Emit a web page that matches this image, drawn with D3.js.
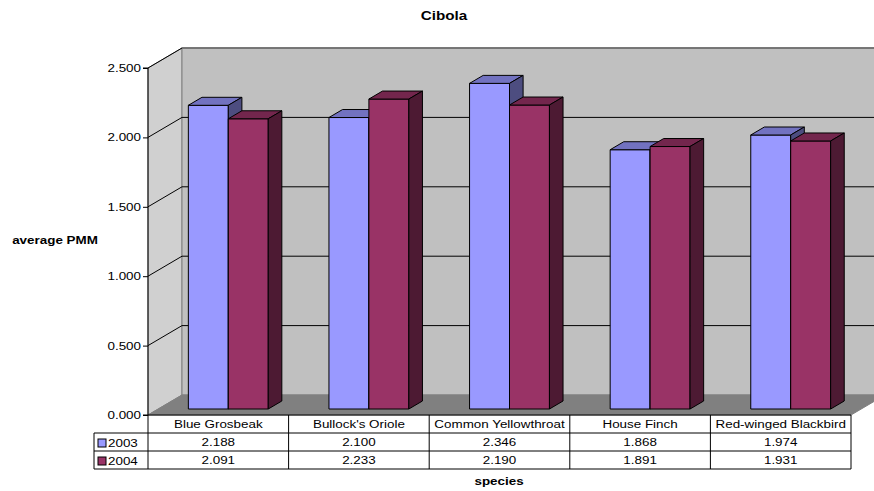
<!DOCTYPE html>
<html><head><meta charset="utf-8">
<script src="https://cdn.jsdelivr.net/npm/d3@7"></script>
<style>body{margin:0;background:#fff}svg{display:block;font-family:"Liberation Sans",Arial,sans-serif}</style>
</head><body><svg id="c" width="874" height="491"></svg>
<script>
const categories = ["Blue Grosbeak","Bullock's Oriole","Common Yellowthroat","House Finch","Red-winged Blackbird"];
const seriesNames = ["2003","2004"];
const values2003 = [2.188,2.100,2.346,1.868,1.974];
const values2004 = [2.091,2.233,2.190,1.891,1.931];
const yTicks = [0,0.5,1.0,1.5,2.0,2.5];

(function(){
const svg = d3.select("#c");
const W = 874, H = 491;
const pL = 148, pR = 851, pT = 68, pB = 415;
const DX = 34, DY = 20;           // wall depth
const SX = 1.22;                  // horizontal text stretch
const y = d3.scaleLinear().domain([0,2.5]).range([pB, pT]);
const x = d3.scaleBand().domain(categories).range([pL, pR]).paddingInner(0).paddingOuter(0);
const xs = d3.scaleBand().domain(seriesNames).range([0, x.bandwidth()]).paddingInner(0).paddingOuter(0.76);
const colors = {
  "2003": {front:"#9999FF", top:"#7272C0", side:"#4D4D80"},
  "2004": {front:"#993366", top:"#73264D", side:"#4D1A33"}
};
const poly = pts => pts.map(p=>p.join(",")).join(" ");
function stretch(sel){
  sel.each(function(){
    const t = d3.select(this);
    const tx = +t.attr("x")||0, ty = +t.attr("y")||0;
    t.attr("x",0).attr("y",0).attr("transform",`translate(${tx},${ty}) scale(${SX},1)`);
  });
  return sel;
}
svg.append("defs").append("clipPath").attr("id","cl").append("rect").attr("x",0).attr("y",0).attr("width",W).attr("height",H);
const g = svg.append("g").attr("clip-path","url(#cl)");

// walls
g.append("polygon").attr("points", poly([[pL,pB],[pL,pT],[pL+DX,pT-DY],[pL+DX,pB-DY]]))
  .attr("fill","#D0D0D0").attr("stroke","#808080");
g.append("rect").attr("x",pL+DX).attr("y",pT-DY).attr("width",W).attr("height",pB-pT)
  .attr("fill","#C0C0C0").attr("stroke","#808080");
g.append("polygon").attr("points", poly([[pL,pB],[pL+DX,pB-DY],[pR+DX,pB-DY],[pR,pB]]))
  .attr("fill","#808080").attr("stroke","#808080");

// gridlines
yTicks.filter(t=>t>0).forEach(t=>{
  const yy = y(t);
  g.append("line").attr("x1",pL).attr("y1",yy).attr("x2",pL+DX).attr("y2",yy-DY).attr("stroke","#000").attr("stroke-width",1);
  g.append("line").attr("x1",pL+DX).attr("y1",yy-DY).attr("x2",W+5).attr("y2",yy-DY).attr("stroke","#000").attr("stroke-width",1);
});
g.append("line").attr("x1",pL+DX).attr("y1",pT-DY).attr("x2",W+5).attr("y2",pT-DY).attr("stroke","#808080").attr("stroke-width",1.5);

// bars
const offX = 10, offY = 6, bdx = 13.6, bdy = 8;
const data = categories.map((c,i)=>({cat:c, vals:[{s:"2003",v:values2003[i]},{s:"2004",v:values2004[i]}]}));
data.forEach(d=>{
  d.vals.forEach(b=>{
    const x0 = x(d.cat) + xs(b.s) + offX, w = xs.bandwidth();
    const yT = y(b.v) - offY, yB = y(0) - offY;
    const c = colors[b.s];
    const bg = g.append("g").attr("stroke","#000").attr("stroke-width",1).attr("stroke-linejoin","round");
    bg.append("rect").attr("x",x0).attr("y",yT).attr("width",w).attr("height",yB-yT).attr("fill",c.front);
    bg.append("polygon").attr("points",poly([[x0,yT],[x0+bdx,yT-bdy],[x0+w+bdx,yT-bdy],[x0+w,yT]])).attr("fill",c.top);
    bg.append("polygon").attr("points",poly([[x0+w,yT],[x0+w+bdx,yT-bdy],[x0+w+bdx,yB-bdy],[x0+w,yB]])).attr("fill",c.side);
  });
});

// y axis
const yAxis = d3.axisLeft(y).tickValues(yTicks).tickFormat(d3.format(".3f")).tickSize(5).tickPadding(2);
const ya = svg.append("g").attr("transform",`translate(${pL},0)`).call(yAxis);
ya.selectAll("path,line").attr("stroke","#000");
ya.select(".domain").attr("d",`M-5,${pT}H0V${pB}H-5`);
ya.selectAll("text").attr("font-size",11).attr("font-family","Liberation Sans, Arial, sans-serif").attr("fill","#000");
stretch(ya.selectAll("text"));

// data table
const rowH = 18, tTop = pB, legL = 94;
const tg = svg.append("g").attr("font-size",11).attr("fill","#000");
const line = (x1,y1,x2,y2)=>tg.append("line").attr("x1",x1).attr("y1",y1).attr("x2",x2).attr("y2",y2).attr("stroke","#000").attr("stroke-width",1);
line(pL,tTop,pR,tTop);
line(legL,tTop+rowH,pR,tTop+rowH);
line(legL,tTop+2*rowH,pR,tTop+2*rowH);
line(legL,tTop+3*rowH,pR,tTop+3*rowH);
line(legL,tTop+rowH,legL,tTop+3*rowH);
x.domain().forEach(c=>line(x(c),tTop,x(c),tTop+3*rowH));
line(pR,tTop,pR,tTop+3*rowH);
categories.forEach((c,i)=>{
  const cx = x(c)+x.bandwidth()/2;
  stretch(tg.append("text").attr("x",cx).attr("y",tTop+rowH/2+4).attr("text-anchor","middle").text(c));
  stretch(tg.append("text").attr("x",cx).attr("y",tTop+rowH*1.5+4).attr("text-anchor","middle").text(d3.format(".3f")(values2003[i])));
  stretch(tg.append("text").attr("x",cx).attr("y",tTop+rowH*2.5+4).attr("text-anchor","middle").text(d3.format(".3f")(values2004[i])));
});
seriesNames.forEach((s,i)=>{
  const ry = tTop+rowH*(i+1);
  tg.append("rect").attr("x",legL+4).attr("y",ry+6).attr("width",8).attr("height",8).attr("fill",colors[s].front).attr("stroke","#000");
  stretch(tg.append("text").attr("x",legL+14).attr("y",ry+rowH/2+5).text(s));
});

// titles
stretch(svg.append("text").attr("x",444).attr("y",20).attr("text-anchor","middle").attr("font-size",12.5).attr("font-weight","bold").text("Cibola"));
stretch(svg.append("text").attr("x",55).attr("y",244).attr("text-anchor","middle").attr("font-size",11).attr("font-weight","bold").text("average PMM"));
stretch(svg.append("text").attr("x",499).attr("y",485).attr("text-anchor","middle").attr("font-size",11).attr("font-weight","bold").text("species"));
})();
</script></body></html>
